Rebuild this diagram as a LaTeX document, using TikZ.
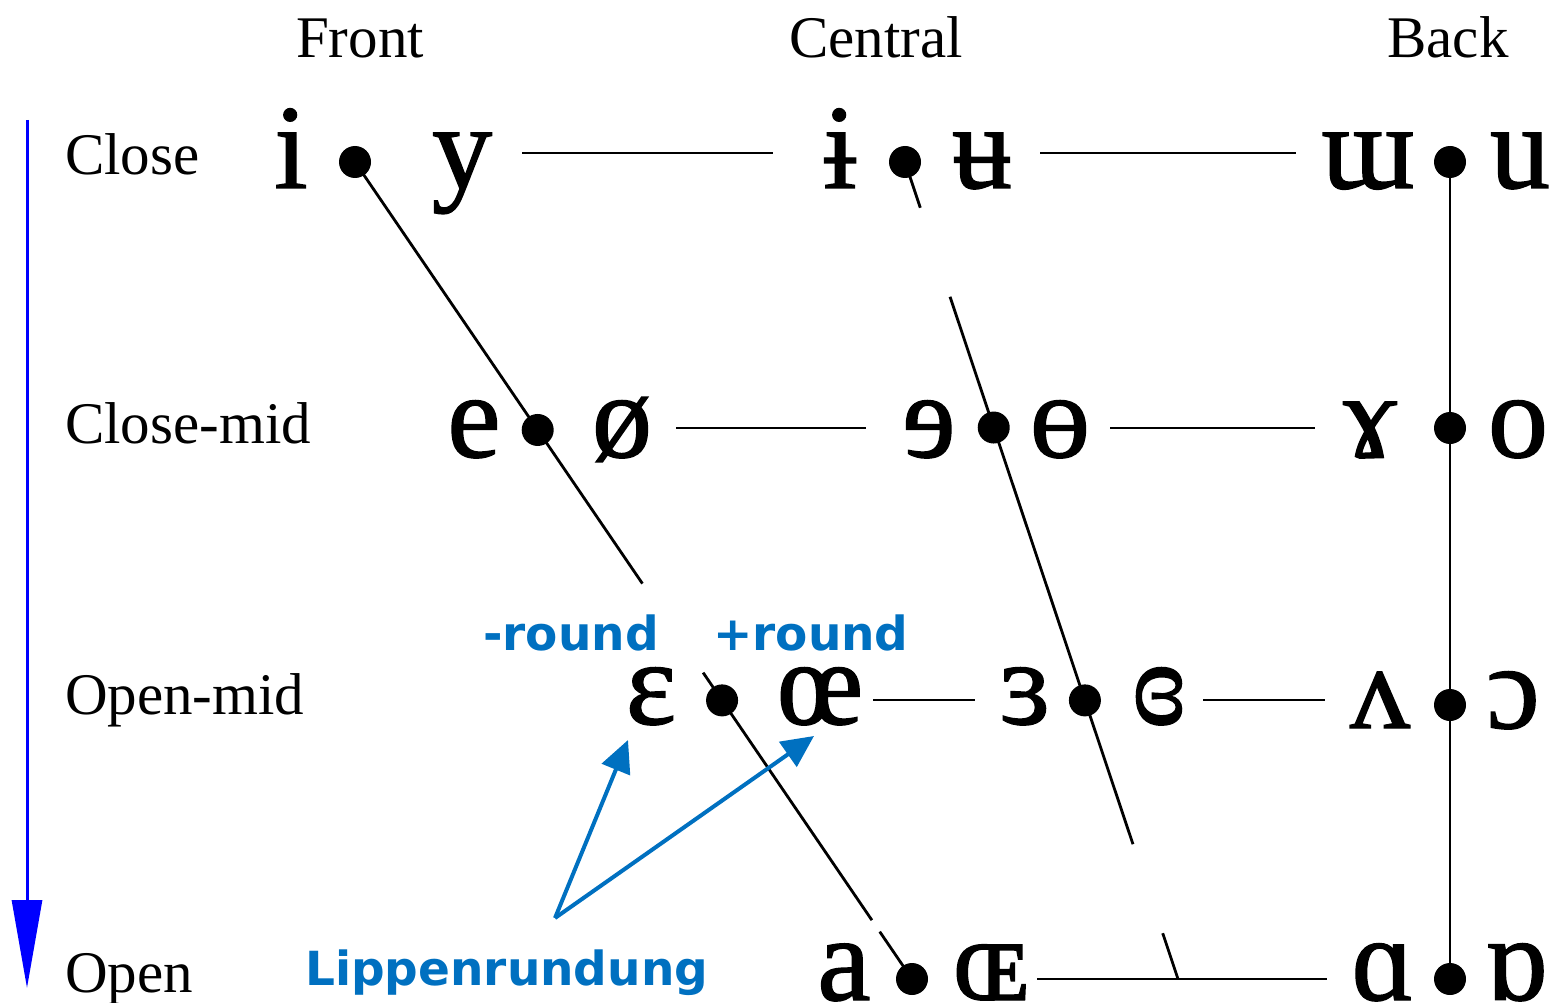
\documentclass[tikz,border=0pt]{standalone}
\usepackage{fontspec}
\setmainfont{Liberation Serif}
\newfontfamily\ipafont[FakeBold=1.2]{Liberation Serif}
\newfontfamily\bluefont{DejaVu Sans}
\usetikzlibrary{arrows.meta,calc}
\definecolor{lipblue}{RGB}{0,112,192}
\begin{document}
\begin{tikzpicture}[x=1pt,y=-1pt,
  dot/.style={circle,fill=black,inner sep=0pt,minimum size=32pt},
  vow/.style={inner sep=0pt,anchor=base,font=\ipafont\fontsize{120}{120}\selectfont},
  rowlab/.style={inner sep=0pt,anchor=base west,font=\fontsize{59}{60}\selectfont},
  collab/.style={inner sep=0pt,anchor=base,font=\fontsize{59}{60}\selectfont},
  ln/.style={line width=2.8pt,black},
  bluelab/.style={inner sep=0pt,anchor=base west,text=lipblue,font=\bluefont\bfseries\fontsize{47}{50}\selectfont},
  bluearr/.style={draw=lipblue,line width=4pt,-{Triangle[length=32pt,width=30pt]}}
]
\useasboundingbox (0,0) rectangle (1550,1003);

% column headers
\node[collab] (hFront) at (360,58) {Front};
\node[collab] (hCentral) at (876,58) {Central};
\node[collab] (hBack) at (1448,58) {Back};

% row labels
\node[rowlab] (rClose) at (65,175) {Close};
\node[rowlab] (rCloseMid) at (65,443) {Close-mid};
\node[rowlab] (rOpenMid) at (65,714) {Open-mid};
\node[rowlab] (rOpen) at (65,992) {Open};

% vertical blue arrow
\coordinate (vTop) at (27,120);
\coordinate (vBot) at (27,988);
\draw[draw=blue,line width=3pt,-{Triangle[length=88pt,width=30pt,fill=blue]}] (vTop) -- (vBot);

% reference coordinates for the dots
\coordinate (f1) at (355,162);
\coordinate (f4) at (912,979);
\coordinate (c1) at (905,162);
\coordinate (cE) at (1178,979);
\coordinate (b1) at (1450,162);
\coordinate (b2) at (1450,428);
\coordinate (b3) at (1450,705);
\coordinate (b4) at (1450,979);

% front diagonal with gaps
\draw[ln] (f1) -- ($(f1)!0.516!(f4)$);
\draw[ln] ($(f1)!0.625!(f4)$) -- ($(f1)!0.928!(f4)$);
\draw[ln] ($(f1)!0.942!(f4)$) -- (f4);

% central diagonal with gaps
\draw[ln] (c1) -- ($(c1)!0.056!(cE)$);
\draw[ln] ($(c1)!0.165!(cE)$) -- ($(c1)!0.835!(cE)$);
\draw[ln] ($(c1)!0.944!(cE)$) -- (cE);

% back vertical
\draw[ln] (b1) -- (b4);

% horizontal lines
\coordinate (h1a) at (522,153); \coordinate (h1b) at (773,153);
\coordinate (h1c) at (1040,153); \coordinate (h1d) at (1296,153);
\coordinate (h2a) at (676,428); \coordinate (h2b) at (866,428);
\coordinate (h2c) at (1110,428); \coordinate (h2d) at (1315,428);
\coordinate (h3a) at (873,700); \coordinate (h3b) at (975,700);
\coordinate (h3c) at (1203,700); \coordinate (h3d) at (1325,700);
\coordinate (h4a) at (1037,979); \coordinate (h4b) at (1327,979);
\draw[ln] (h1a) -- (h1b);
\draw[ln] (h1c) -- (h1d);
\draw[ln] (h2a) -- (h2b);
\draw[ln] (h2c) -- (h2d);
\draw[ln] (h3a) -- (h3b);
\draw[ln] (h3c) -- (h3d);
\draw[ln] (h4a) -- (h4b);

% dots
\node[dot] (d11) at (f1) {};
\node[dot] (d12) at (c1) {};
\node[dot] (d13) at (b1) {};
\node[dot] (d21) at ($(f1)!0.328!(f4)$) {};
\node[dot] (d22) at ($(c1)!0.325!(cE)$) {};
\node[dot] (d23) at (b2) {};
\node[dot] (d31) at ($(f1)!0.659!(f4)$) {};
\node[dot] (d32) at ($(c1)!0.659!(cE)$) {};
\node[dot] (d33) at (b3) {};
\node[dot] (d41) at (f4) {};
\node[dot] (d43) at (b4) {};

% vowels: close
\node[vow] (vi) at (291,188) {i};
\node[vow] (vy) at (462,188) {y};
\node[vow] (vibar) at (840,188) {ɨ};
\node[vow] (vubar) at (982,188) {ʉ};
\node[vow] (vturnm) at (1368,188) {ɯ};
\node[vow] (vu) at (1520,188) {u};
% close-mid
\node[vow] (ve) at (474,457) {e};
\node[vow] (voslash) at (622,457) {ø};
\node[vow] (vrevE) at (929,457) {ɘ};
\node[vow] (vbarO) at (1060,457) {ɵ};
\node[vow] (vramshorn) at (1370,457) {ɤ};
\node[vow] (vo) at (1518,457) {o};
% open-mid
\node[vow] (veps) at (651,724) {ɛ};
\node[vow] (voe) at (820,724) {œ};
\node[vow] (vreveps) at (1025,724) {ɜ};
\node[vow] (vclreveps) at (1159,724) {ɞ};
\node[vow] (vturnv) at (1380,728) {ʌ};
\node[vow] (vopeno) at (1513,728) {ɔ};
% open
\node[vow] (va) at (844,1000) {a};
\node[vow] (vOE) at (991,1000) {ɶ};
\node[vow] (vscripta) at (1383,1000) {ɑ};
\node[vow] (vturnscripta) at (1516,1000) {ɒ};

% blue annotations
\node[bluelab] (lminus) at (483,650) {-round};
\node[bluelab] (lplus) at (713,650) {+round};
\node[bluelab] (llip) at (305,985) {Lippenrundung};
\coordinate (lipTop) at (555,918);
\coordinate (tipEps) at (628,740);
\coordinate (tipOe) at (814,736);
\draw[bluearr] (lipTop) -- (tipEps);
\draw[bluearr] (lipTop) -- (tipOe);
\end{tikzpicture}
\end{document}
